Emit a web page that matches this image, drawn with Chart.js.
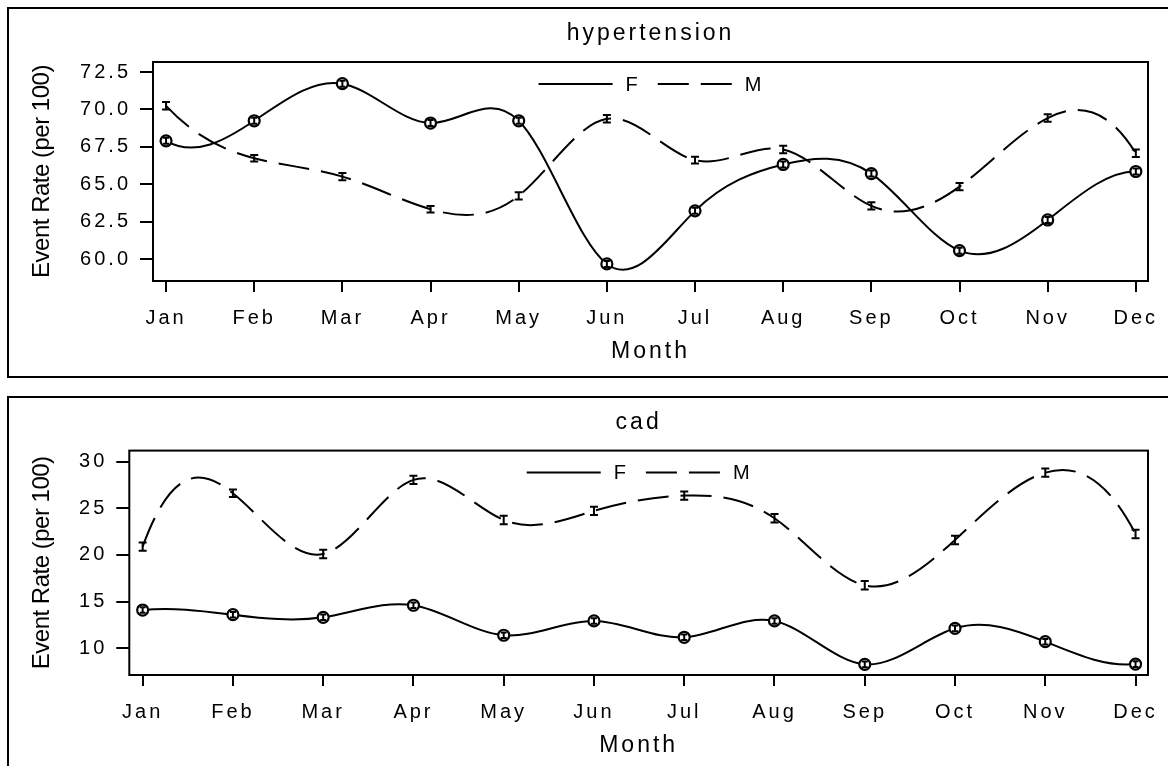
<!DOCTYPE html>
<html>
<head>
<meta charset="utf-8">
<script src="https://cdn.jsdelivr.net/npm/chart.js@4.4.1/dist/chart.umd.min.js"></script>
<style>
html, body { margin: 0; padding: 0; background: #fff; overflow: hidden; width: 1168px; height: 766px; }
canvas { position: absolute; left: 0; }
.frame { position: absolute; left: 7px; width: 1200px; border: 2px solid #000; border-right: none; box-sizing: border-box; pointer-events: none; }
</style>
</head>
<body>
<canvas id="hyperChart" width="1168" height="380" style="top:0;width:1168px;height:380px"></canvas>
<canvas id="cadChart" width="1168" height="386" style="top:380px;width:1168px;height:386px"></canvas>
<div class="frame" style="top:7px;height:371px"></div>
<div class="frame" style="top:396px;height:420px"></div>
<script>
// Дані
const months = ['Jan', 'Feb', 'Mar', 'Apr', 'May', 'Jun', 'Jul', 'Aug', 'Sep', 'Oct', 'Nov', 'Dec'];

const hyperF = [67.9, 69.24, 71.72, 69.09, 69.24, 59.67, 63.22, 66.32, 65.71, 60.56, 62.61, 65.85];
const hyperFErr = [0.2, 0.2, 0.2, 0.2, 0.2, 0.2, 0.2, 0.2, 0.2, 0.2, 0.2, 0.2];
const hyperM = [70.24, 66.74, 65.51, 63.33, 64.22, 69.37, 66.61, 67.32, 63.55, 64.84, 69.42, 67.07];
const hyperMErr = [0.25, 0.22, 0.24, 0.22, 0.24, 0.25, 0.22, 0.25, 0.24, 0.24, 0.25, 0.25];
const hyperTicks = [60, 62.5, 65, 67.5, 70, 72.5];

const cadF = [14.1, 13.6, 13.32, 14.61, 11.4, 12.93, 11.18, 12.93, 8.28, 12.14, 10.71, 8.31];
const cadFErr = [0.3, 0.3, 0.3, 0.3, 0.3, 0.3, 0.3, 0.3, 0.3, 0.3, 0.3, 0.3];
const cadM = [20.89, 26.61, 20.11, 28.04, 23.75, 24.72, 26.36, 23.93, 16.75, 21.61, 28.82, 22.25];
const cadMErr = [0.45, 0.4, 0.45, 0.45, 0.45, 0.45, 0.45, 0.45, 0.45, 0.45, 0.45, 0.45];
const cadTicks = [10, 15, 20, 25, 30];

const FONT = '"Liberation Sans", Arial, sans-serif';
Chart.defaults.font.family = FONT;
Chart.defaults.color = '#000';

// Розтягнутий шрифт як у SAS
const spacingPlugin = {
    id: 'spacing',
    beforeLayout(chart) { chart.ctx.letterSpacing = '3px'; },
    beforeDraw(chart) {
        chart.ctx.letterSpacing = '3px';
        const y = chart.scales.y;
        if (y && !y._patched) {
            const orig = y.drawTitle.bind(y);
            y.drawTitle = function () {
                const c = this.ctx;
                const prev = c.letterSpacing;
                c.letterSpacing = '-0.5px';
                orig();
                c.letterSpacing = prev;
            };
            y._patched = true;
        }
    }
};

// Кубічний сплайн (кінцева умова not-a-knot) замість стандартних контрольних точок
const END_K = 1;
function splineControls(pts) {
    const n = pts.length;
    const xs = pts.map(p => p.x), ys = pts.map(p => p.y);
    const h = [];
    for (let i = 0; i < n - 1; i++) h[i] = xs[i + 1] - xs[i];
    const M = new Array(n).fill(0);
    const cp = [], dp = [];
    for (let i = 1; i < n - 1; i++) {
        let a = h[i - 1], b = 2 * (h[i - 1] + h[i]), c = h[i];
        const d = 6 * ((ys[i + 1] - ys[i]) / h[i] - (ys[i] - ys[i - 1]) / h[i - 1]);
        if (i === 1) { b += a * (1 + END_K); c -= a * END_K; a = 0; }
        if (i === n - 2) { b += c * (1 + END_K); a -= c * END_K; c = 0; }
        const m = b - (i > 1 ? a * cp[i - 1] : 0);
        cp[i] = c / m;
        dp[i] = (d - (i > 1 ? a * dp[i - 1] : 0)) / m;
    }
    for (let i = n - 2; i >= 1; i--) M[i] = dp[i] - cp[i] * (i < n - 2 ? M[i + 1] : 0);
    M[0] = (1 + END_K) * M[1] - END_K * M[2];
    M[n - 1] = (1 + END_K) * M[n - 2] - END_K * M[n - 3];
    for (let i = 0; i < n - 1; i++) {
        const s = (ys[i + 1] - ys[i]) / h[i];
        const s0 = s - h[i] * (2 * M[i] + M[i + 1]) / 6;
        const s1 = s + h[i] * (M[i] + 2 * M[i + 1]) / 6;
        pts[i].cp2x = xs[i] + h[i] / 3;
        pts[i].cp2y = ys[i] + s0 * h[i] / 3;
        pts[i + 1].cp1x = xs[i + 1] - h[i] / 3;
        pts[i + 1].cp1y = ys[i + 1] - s1 * h[i] / 3;
    }
}

const splinePlugin = {
    id: 'spline',
    beforeDatasetDraw(chart, args) {
        const meta = args.meta;
        const line = meta.dataset;
        if (!line || meta.data.length < 4) return;
        line.updateControlPoints(chart.chartArea, meta.indexAxis);
        splineControls(meta.data);
        line._path = undefined;
    }
};

// Рамка області графіка
const framePlugin = {
    id: 'frame',
    beforeDatasetsDraw(chart) {
        const { ctx, chartArea: a } = chart;
        ctx.save();
        ctx.strokeStyle = '#000';
        ctx.lineWidth = 2;
        ctx.strokeRect(a.left, a.top, a.right - a.left, a.bottom - a.top);
        ctx.restore();
    }
};

// Планки похибок
const errorBarPlugin = {
    id: 'errorBars',
    afterDatasetsDraw(chart) {
        const { ctx, scales: { x, y } } = chart;
        ctx.save();
        ctx.strokeStyle = '#000';
        ctx.lineWidth = 2;
        ctx.setLineDash([]);
        chart.data.datasets.forEach(d => {
            const c = d.capWidth / 2;
            d.data.forEach((p, i) => {
                const px = x.getPixelForValue(p.x);
                const hi = y.getPixelForValue(p.y + d.err[i]);
                const lo = y.getPixelForValue(p.y - d.err[i]);
                ctx.beginPath();
                ctx.moveTo(px, hi); ctx.lineTo(px, lo);
                ctx.moveTo(px - c, hi); ctx.lineTo(px + c, hi);
                ctx.moveTo(px - c, lo); ctx.lineTo(px + c, lo);
                ctx.stroke();
            });
        });
        ctx.restore();
    }
};

// Легенда всередині області графіка
const legendPlugin = {
    id: 'lineLegend',
    afterDraw(chart) {
        const { ctx, chartArea } = chart;
        const ds = chart.data.datasets;
        ctx.save();
        ctx.font = '20px ' + FONT;
        ctx.letterSpacing = '1px';
        ctx.fillStyle = '#000';
        ctx.strokeStyle = '#000';
        ctx.lineWidth = 2;
        ctx.textBaseline = 'middle';
        const sample = 74, gapText = 13, gapItem = 19;
        const widths = ds.map(d => ctx.measureText(d.label).width);
        const total = ds.length * (sample + gapText) + widths.reduce((a, b) => a + b, 0) + (ds.length - 1) * gapItem;
        let x = (chartArea.left + chartArea.right) / 2 - total / 2;
        const y = chartArea.top + 22;
        ds.forEach((d, i) => {
            ctx.setLineDash(d.borderDash || []);
            ctx.beginPath();
            ctx.moveTo(x, y);
            ctx.lineTo(x + sample, y);
            ctx.stroke();
            x += sample + gapText;
            ctx.fillText(d.label, x, y + 1);
            x += widths[i] + gapItem;
        });
        ctx.restore();
    }
};

function toPoints(vals) {
    return vals.map((v, i) => ({ x: i, y: v }));
}

function buildChart(id, title, f, fErr, m, mErr, yTicks, yMin, yMax, decimals, yWidth, titleTop, titleBottom, padBottom) {
    return new Chart(document.getElementById(id), {
        type: 'line',
        data: {
            datasets: [{
                label: 'F',
                data: toPoints(f),
                err: fErr,
                capWidth: 6,
                borderColor: '#000',
                borderWidth: 2,
                tension: 0.4,
                pointStyle: 'circle',
                pointRadius: 5.5,
                pointBorderWidth: 2.2,
                pointBorderColor: '#000',
                pointBackgroundColor: '#fff'
            }, {
                label: 'M',
                data: toPoints(m),
                err: mErr,
                capWidth: 8,
                borderColor: '#000',
                borderWidth: 2,
                borderDash: [31, 12],
                tension: 0.4,
                pointRadius: 0
            }]
        },
        options: {
            responsive: false,
            animation: false,
            events: [],
            layout: { padding: { left: 0, right: 20, top: 0, bottom: padBottom } },
            plugins: {
                legend: { display: false },
                tooltip: { enabled: false },
                title: {
                    display: true,
                    text: title,
                    fullSize: false,
                    color: '#000',
                    font: { size: 23, weight: 'normal' },
                    padding: { top: titleTop, bottom: titleBottom }
                }
            },
            scales: {
                x: {
                    type: 'linear',
                    min: -0.148,
                    max: 11.138,
                    afterFit: s => { s.height = 91; s.paddingLeft = 0; s.paddingRight = 0; },
                    afterBuildTicks: s => { s.ticks = months.map((_, i) => ({ value: i })); },
                    ticks: {
                        callback: v => months[v],
                        font: { size: 20 },
                        padding: 14,
                        maxRotation: 0,
                        autoSkip: false
                    },
                    grid: { drawOnChartArea: false, tickLength: 11, color: '#000', lineWidth: 2 },
                    border: { display: false },
                    title: {
                        display: true,
                        text: 'Month',
                        font: { size: 23 },
                        padding: { top: 0, bottom: 6.7 }
                    }
                },
                y: {
                    min: yMin,
                    max: yMax,
                    afterFit: s => { s.width = yWidth; s.paddingTop = 0; s.paddingBottom = 0; },
                    afterBuildTicks: s => { s.ticks = yTicks.map(v => ({ value: v })); },
                    ticks: {
                        callback: v => v.toFixed(decimals),
                        font: { size: 20 },
                        padding: 9
                    },
                    grid: { drawOnChartArea: false, tickLength: 13, color: '#000', lineWidth: 2 },
                    border: { display: false },
                    title: {
                        display: true,
                        text: 'Event Rate (per 100)',
                        font: { size: 24 },
                        padding: { top: 28, bottom: 0 }
                    }
                }
            }
        },
        plugins: [spacingPlugin, splinePlugin, framePlugin, errorBarPlugin, legendPlugin]
    });
}

buildChart('hyperChart', 'hypertension', hyperF, hyperFErr, hyperM, hyperMErr, hyperTicks,
    58.53, 73.17, 1, 153, 20, 14.4, 8);
buildChart('cadChart', 'cad', cadF, cadFErr, cadM, cadMErr, cadTicks,
    7.14, 31.18, 0, 129.3, 28.4, 14.6, 0);
</script>
</body>
</html>
